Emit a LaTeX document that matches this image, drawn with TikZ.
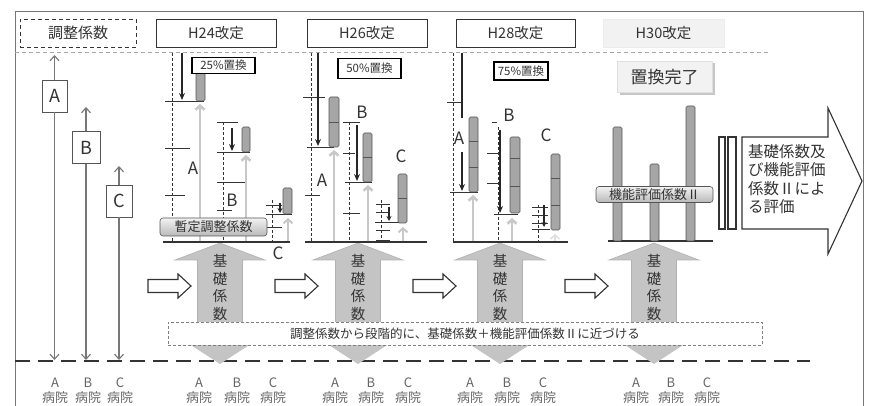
\documentclass[tikz,border=0pt]{standalone}
\usepackage{fontspec}
\setmainfont{Noto Sans CJK JP}
\usetikzlibrary{arrows.meta}
\definecolor{ink}{HTML}{333333}
\definecolor{frm}{HTML}{777777}
\definecolor{barfill}{HTML}{A6A6A6}
\definecolor{barline}{HTML}{555555}
\definecolor{lgarrow}{HTML}{C8C8C8}
\definecolor{bigfill}{HTML}{C4C4C4}
\tikzset{
  hdr/.style={draw=ink, line width=0.9pt, fill=white, minimum width=120, minimum height=28, inner sep=0pt, font=\fontsize{14.5}{16}\selectfont, text=ink},
  pct/.style={draw=black, line width=1.6pt, fill=white, inner sep=0pt, font=\fontsize{11.5}{13}\selectfont, text=ink},
  abox/.style={draw=barline, line width=0.9pt, fill=white, minimum width=25, minimum height=32, inner sep=0pt, font=\fontsize{18}{20}\selectfont, text=ink},
  vline/.style={draw=frm, line width=1.1pt},
  upar/.style={vline, -{Straight Barb[length=5pt,width=9pt]}},
  blk/.style={draw=black!85, line width=1.4pt, -{Stealth[length=7pt,width=6pt]}},
  blkline/.style={draw=black!85, line width=1.4pt},
  tick/.style={draw=ink, line width=0.7pt},
  dsh/.style={draw=black!80, line width=0.7pt, dash pattern=on 3pt off 2pt},
  bar/.style={draw=barline, line width=0.6pt, fill=barfill, rounded corners=1.5pt},
  seg/.style={draw=barline, line width=0.6pt},
  lga/.style={draw=lgarrow, line width=2.6pt, -{Straight Barb[length=4pt,width=9pt]}},
  base/.style={draw=ink, line width=1.3pt},
  lab/.style={font=\fontsize{17}{19}\selectfont, text=ink, inner sep=0pt},
  hosp/.style={font=\fontsize{13}{15}\selectfont, text=black!60, align=center, inner sep=0pt},
  shade/.style={draw=barline, line width=0.6pt, rounded corners=3pt, top color=gray!10, bottom color=gray!55, inner sep=0pt, font=\fontsize{13}{14}\selectfont, text=ink},
  wbox/.style={draw=ink, line width=1.1pt, fill=white},
}
\begin{document}
\begin{tikzpicture}[x=1pt,y=-1pt]
\useasboundingbox (0,0) rectangle (873,406);
% frame
\draw[frm, line width=1pt] (15,406) -- (15,12) -- (863,12) -- (863,406);
% dashed line under headers
\draw[gray!70, line width=1pt, dash pattern=on 4pt off 3pt] (15,53) -- (770,53);
% headers
\node[hdr, draw=ink, dashed, dash pattern=on 4pt off 3pt, minimum width=116, font=\fontsize{15}{17}\selectfont] (hadj) at (78,33) {調整係数};
\node[hdr] (h24) at (216,33) {H24改定};
\node[hdr] (h26) at (367,33) {H26改定};
\node[hdr, minimum width=119] (h28) at (515.5,33) {H28改定};
\node[hdr, draw=gray!15, fill=gray!10, minimum width=121] (h30) at (663.5,33) {H30改定};

% bottom big dashed line
\draw[ink, line width=2pt, dash pattern=on 15pt off 8pt] (15,361) -- (810,361);

% adjustment coefficient column
\node[abox] (ba) at (54.5,96) {A};
\node[abox, minimum width=28] (bb) at (86,147.5) {B};
\node[abox, minimum width=26] (bc) at (119,201) {C};
\coordinate (ta) at (54.5,55); \coordinate (da) at (54.5,360);
\coordinate (tb) at (86,107); \coordinate (db) at (86,360);
\coordinate (tc) at (119,166); \coordinate (dc) at (119,360);
\draw[upar] (ba.north) -- (ta);
\draw[upar] (ba.south) -- (da);
\draw[upar] (bb.north) -- (tb);
\draw[upar] (bb.south) -- (db);
\draw[upar] (bc.north) -- (tc);
\draw[upar] (bc.south) -- (dc);

% big gray arrows
\foreach \c/\n in {220/a,358/b,500/c,654/d}{
  \fill[bigfill] (\c-40,338) -- (\c+40,338) -- (\c,364) -- cycle;
  \draw[gray!60, fill=bigfill, line width=0.6pt] (\c-22.5,335) -- (\c-22.5,260) -- (\c-45,260) -- (\c,243) -- (\c+45,260) -- (\c+22.5,260) -- (\c+22.5,335) -- cycle;
  \node[font=\fontsize{14.5}{17.5}\selectfont, text=ink, align=center, inner sep=0pt] (kiso\n) at (\c,287.5) {基\\礎\\係\\数};
}
% small outlined arrows
\foreach \x/\n in {148/a,275/b,413/c,565/d}{
  \draw[wbox] (\x,279.5) -- (\x+30,279.5) -- (\x+30,274) -- (\x+43,286) -- (\x+30,298) -- (\x+30,292.5) -- (\x,292.5) -- cycle;
}
% text box
\node[draw=gray, dashed, dash pattern=on 3pt off 2pt, line width=0.8pt, fill=white, minimum width=594, minimum height=23, inner sep=0pt, font=\fontsize{12.5}{14}\selectfont, text=ink] (msg) at (465,333.5) {調整係数から段階的に、基礎係数＋機能評価係数Ⅱに近づける};

% hospital labels
\foreach \x/\l/\n in {55/A/1a,88/B/1b,120/C/1c,199/A/2a,237/B/2b,273/C/2c,335/A/3a,371/B/3b,408/C/3c,470/A/4a,507/B/4b,543/C/4c,636/A/5a,671/B/5b,707/C/5c}{
  \node[hosp] (hosp\n) at (\x,390.5) {\l\\病院};
}

% ===== H24 =====
\draw[dsh] (172,53) -- (172,242);
\draw[tick] (165,101) -- (204,101);
\draw[blk] (182,53) -- (182,100);
\draw[bar] (196,73) rectangle (205,101);
\node[pct, minimum width=63, minimum height=16] (p25) at (223.5,65.5) {25\%置換};
\draw[lga] (200,242) -- (200,104);
\draw[tick] (165,148) -- (190,148);
\draw[tick] (165,195) -- (185,195);
\node[lab] (a24) at (193,168) {A};
\draw[dsh] (223,122) -- (223,242);
\draw[tick] (217,122) -- (238,122);
\draw[tick] (217,152) -- (250,152);
\draw[blk] (232,128) -- (232,151);
\draw[bar] (242,127) rectangle (250,152);
\draw[lga] (246,242) -- (246,155);
\draw[tick] (217,182) -- (245,182);
\draw[tick] (217,210) -- (232,210);
\node[lab] (b24) at (232,200) {B};
\draw[dsh] (272,200) -- (272,242);
\draw[tick] (266,205) -- (282,205);
\draw[tick] (266,214) -- (292,214);
\draw[tick] (266,227) -- (282,227);
\draw[blk, line width=1.1pt, -{Stealth[length=5pt,width=5pt]}] (280,203) -- (280,213);
\draw[bar] (283,188) rectangle (292,214);
\draw[lga, line width=2pt] (288,242) -- (288,218);
\node[lab] (c24) at (278,253) {C};
\draw[base] (163,242) -- (290,242);
\node[shade, minimum width=107, minimum height=18] (zantei) at (213.5,227) {暫定調整係数};

% ===== H26 =====
\draw[dsh] (311,53) -- (311,242);
\draw[tick] (303,97) -- (325,97);
\draw[tick] (305,195) -- (320,195);
\draw[tick] (307,147) -- (334,147);
\draw[blk] (318,53) -- (318,146);
\draw[bar] (329,97) rectangle (339,147);
\draw[seg] (329,122) -- (339,122);
\node[pct, minimum width=63, minimum height=20] (p50) at (369.5,68.5) {50\%置換};
\draw[lga] (334,242) -- (334,150);
\node[lab] (a26) at (322,180) {A};
\draw[dsh] (349,122) -- (349,242);
\draw[tick] (343,122) -- (360,122);
\draw[tick] (343,153) -- (355,153);
\draw[tick] (343,213) -- (360,213);
\draw[tick] (345,182) -- (372,182);
\draw[blk] (357,125) -- (357,181);
\draw[bar] (363,133) rectangle (372,182);
\draw[seg] (363,157) -- (372,157);
\draw[lga] (368,242) -- (368,185);
\node[lab] (b26) at (362,112) {B};
\draw[dsh] (381,200) -- (381,242);
\draw[tick] (376,204) -- (390,204);
\draw[tick] (376,212) -- (390,212);
\draw[tick] (375,222) -- (400,222);
\draw[tick] (376,230) -- (390,230);
\draw[blk, line width=1.1pt, -{Stealth[length=5pt,width=5pt]}] (389,207) -- (389,221);
\draw[bar] (398,174) rectangle (407,223);
\draw[seg] (398,198) -- (407,198);
\draw[lga, line width=2pt] (403,241) -- (403,227);
\node[lab] (c26) at (401,156) {C};
\draw[base] (305,242) -- (427,242);
\draw[ink, line width=2.5pt] (376,241.5) -- (390,241.5);

% ===== H28 =====
\draw[dsh] (453,53) -- (453,242);
\draw[tick] (447,102) -- (462,102);
\draw[blkline] (462,53) -- (462,118);
\node[lab] (a28) at (459,138) {A};
\draw[tick] (450,192) -- (478,192);
\draw[blk] (462,152) -- (462,191);
\draw[bar] (469,117) rectangle (478,192);
\draw[seg] (469,141) -- (478,141);
\draw[seg] (469,167) -- (478,167);
\draw[lga] (473,242) -- (473,195);
\node[pct, minimum width=54, minimum height=18] (p75) at (521,71) {75\%置換};
\node[lab] (b28) at (509,115) {B};
\draw[tick] (492,122) -- (497,122);
\draw[dsh] (498,127) -- (498,242);
\draw[tick] (487,153) -- (500,153);
\draw[tick] (487,183) -- (500,183);
\draw[tick] (494,214) -- (518,214);
\draw[blk] (500,130) -- (500,213);
\draw[bar] (510,137) rectangle (520,213);
\draw[seg] (510,158) -- (520,158);
\draw[seg] (510,186) -- (520,186);
\draw[lga] (512,242) -- (512,218);
\node[lab] (c28) at (546,135) {C};
\draw[dsh] (538,205) -- (538,242);
\draw[tick] (532,207) -- (548,207);
\draw[tick] (532,215) -- (548,215);
\draw[tick] (532,223) -- (548,223);
\draw[tick] (532,229) -- (550,229);
\draw[blk, line width=1.1pt, -{Stealth[length=5pt,width=5pt]}] (544,205) -- (544,227);
\draw[bar] (551,154) rectangle (560,230);
\draw[seg] (551,178) -- (560,178);
\draw[seg] (551,205) -- (560,205);
\draw[lga, line width=1.5pt, draw=gray!25] (555,242) -- (555,234);
\draw[base] (453,242) -- (568,242);

% ===== H30 =====
\fill[gray!45] (619.5,63.5) rectangle (714.5,95);
\node[draw=gray!25, fill=gray!10, minimum width=95, minimum height=31, inner sep=0pt, font=\fontsize{17}{19}\selectfont, text=ink] (kanryo) at (664.5,77) {置換完了};
\draw[base] (608,241) -- (713,241);
\draw[bar] (613,127) rectangle (622,241);
\draw[bar] (650,164) rectangle (659,241);
\draw[bar] (686,106) rectangle (695,241);
\node[shade, minimum width=117, minimum height=16] (kino) at (654.5,194.5) {機能評価係数Ⅱ};

% big right arrow
\draw[wbox] (742,137) -- (828,137) -- (828,108) -- (862,181) -- (828,254) -- (828,229) -- (742,229) -- cycle;
\draw[wbox] (719,137) rectangle (725,229);
\draw[wbox] (728,137) rectangle (736,229);
\node[anchor=north west, align=left, inner sep=0pt, font=\fontsize{15.5}{18.5}\selectfont, text=ink] (eval) at (748,144) {基礎係数及\\び機能評価\\係数Ⅱによ\\る評価};
\end{tikzpicture}
\end{document}
